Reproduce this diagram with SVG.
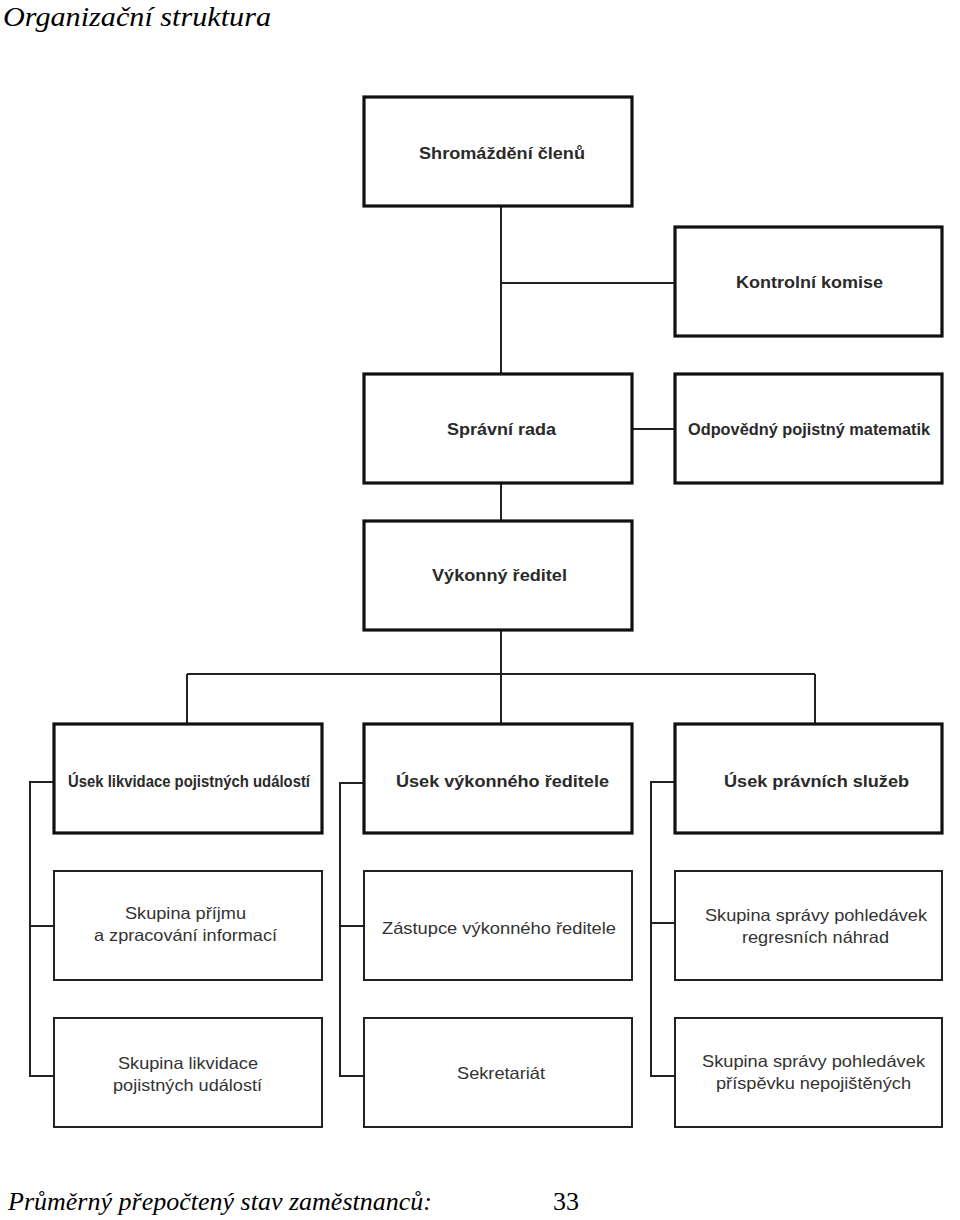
<svg xmlns="http://www.w3.org/2000/svg" width="960" height="1220" viewBox="0 0 960 1220">
<style>
.bg{fill:#ffffff}
.thick{fill:#ffffff;stroke:#111111;stroke-width:3.2}
.thin{fill:#ffffff;stroke:#222222;stroke-width:2}
.h{font-family:"Liberation Sans",Arial,sans-serif;font-weight:bold;font-size:17px;fill:#2a2a2a;text-anchor:middle}
.r{font-family:"Liberation Sans",Arial,sans-serif;font-size:16.5px;fill:#333333;text-anchor:middle}
.conn{fill:none;stroke:#222222;stroke-width:2}
.serif{font-family:"Liberation Serif","Times New Roman",serif;fill:#000000}
</style>
<rect class="bg" x="0" y="0" width="960" height="1220"/>
<text class="serif" x="3" y="26" font-size="27" font-style="italic" textLength="268" lengthAdjust="spacingAndGlyphs">Organizační struktura</text>

<g id="connectors">
<path class="conn" d="M501 206V374M501 283H675M632 429H675M501 483V521M501 630V724M187 674H815M187 674V724M815 674V724"/>
<path class="conn" d="M54 782H30V1076H54M30 926H54"/>
<path class="conn" d="M364 783H340V1076H364M340 926H364"/>
<path class="conn" d="M675 782H651V1076H675M651 923H675"/>
</g>

<g id="n-shromazdeni"><rect class="thick" x="364" y="97" width="268" height="109"/><text class="h" x="502" y="159" textLength="166" lengthAdjust="spacingAndGlyphs">Shromáždění členů</text></g>
<g id="n-kontrolni"><rect class="thick" x="675" y="227" width="267" height="109"/><text class="h" x="809.5" y="288" textLength="147" lengthAdjust="spacingAndGlyphs">Kontrolní komise</text></g>
<g id="n-spravni"><rect class="thick" x="364" y="374" width="268" height="109"/><text class="h" x="501.5" y="435" textLength="109" lengthAdjust="spacingAndGlyphs">Správní rada</text></g>
<g id="n-matematik"><rect class="thick" x="675" y="374" width="267" height="109"/><text class="h" x="809" y="435" textLength="242" lengthAdjust="spacingAndGlyphs">Odpovědný pojistný matematik</text></g>
<g id="n-vykonny"><rect class="thick" x="364" y="521" width="268" height="109"/><text class="h" x="499.5" y="581" textLength="135" lengthAdjust="spacingAndGlyphs">Výkonný ředitel</text></g>

<g id="n-usek-likvidace"><rect class="thick" x="54" y="724" width="268" height="109"/><text class="h" x="189" y="787" textLength="242" lengthAdjust="spacingAndGlyphs">Úsek likvidace pojistných událostí</text></g>
<g id="n-usek-vykonneho"><rect class="thick" x="364" y="724" width="268" height="109"/><text class="h" x="502.5" y="787" textLength="213" lengthAdjust="spacingAndGlyphs">Úsek výkonného ředitele</text></g>
<g id="n-usek-pravnich"><rect class="thick" x="675" y="724" width="267" height="109"/><text class="h" x="816.5" y="787" textLength="185" lengthAdjust="spacingAndGlyphs">Úsek právních služeb</text></g>

<g id="n-prijmu"><rect class="thin" x="54" y="871" width="268" height="109"/><text class="r" x="185.5" y="919" textLength="121" lengthAdjust="spacingAndGlyphs">Skupina příjmu</text><text class="r" x="185.5" y="941" textLength="183" lengthAdjust="spacingAndGlyphs">a zpracování informací</text></g>
<g id="n-zastupce"><rect class="thin" x="364" y="871" width="268" height="109"/><text class="r" x="499" y="934" textLength="234" lengthAdjust="spacingAndGlyphs">Zástupce výkonného ředitele</text></g>
<g id="n-regresnich"><rect class="thin" x="675" y="871" width="267" height="109"/><text class="r" x="816" y="921" textLength="222" lengthAdjust="spacingAndGlyphs">Skupina správy pohledávek</text><text class="r" x="815.5" y="943" textLength="147" lengthAdjust="spacingAndGlyphs">regresních náhrad</text></g>

<g id="n-skupina-likvidace"><rect class="thin" x="54" y="1018" width="268" height="109"/><text class="r" x="188" y="1069" textLength="140" lengthAdjust="spacingAndGlyphs">Skupina likvidace</text><text class="r" x="187.5" y="1091" textLength="149" lengthAdjust="spacingAndGlyphs">pojistných událostí</text></g>
<g id="n-sekretariat"><rect class="thin" x="364" y="1018" width="268" height="109"/><text class="r" x="501" y="1079" textLength="88" lengthAdjust="spacingAndGlyphs">Sekretariát</text></g>
<g id="n-prispevku"><rect class="thin" x="675" y="1018" width="267" height="109"/><text class="r" x="813.5" y="1067" textLength="223" lengthAdjust="spacingAndGlyphs">Skupina správy pohledávek</text><text class="r" x="813.5" y="1089" textLength="195" lengthAdjust="spacingAndGlyphs">příspěvku nepojištěných</text></g>

<text class="serif" x="8" y="1210" font-size="26" font-style="italic" textLength="424" lengthAdjust="spacingAndGlyphs">Průměrný přepočtený stav zaměstnanců:</text>
<text class="serif" x="553" y="1210" font-size="26">33</text>
</svg>
